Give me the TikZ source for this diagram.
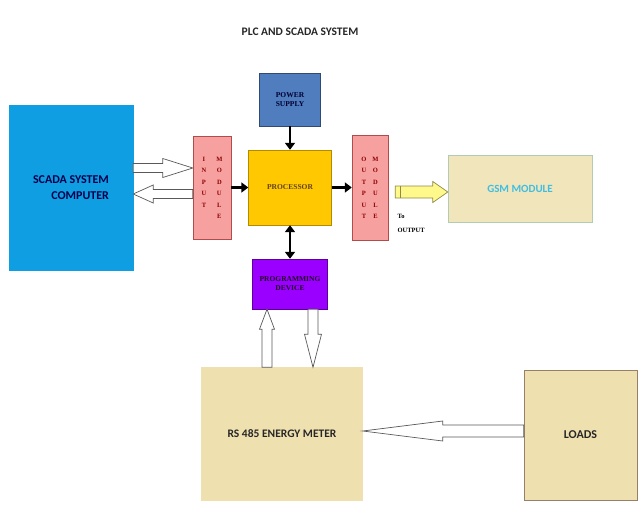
\documentclass[tikz,border=0pt]{standalone}
\usepackage{fontspec}
\setmainfont{Carlito}
\newfontfamily\smallserif{Liberation Serif}
\usetikzlibrary{calc,arrows.meta}

\definecolor{scadablue}{RGB}{16,158,226}
\definecolor{supplyblue}{RGB}{79,125,190}
\definecolor{modpink}{RGB}{247,160,160}
\definecolor{procgold}{RGB}{255,200,0}
\definecolor{progpurple}{RGB}{153,0,255}
\definecolor{meterbeige}{RGB}{239,224,176}
\definecolor{gsmcyan}{RGB}{64,190,225}

\begin{document}
\begin{tikzpicture}[
  x=1pt, y=-1pt,
  box/.style={draw, align=center, inner sep=2pt, font=\bfseries},
  tiny/.style={font=\smallserif\bfseries\fontsize{7.5}{9}\selectfont},
  letters/.style={font=\smallserif\bfseries\fontsize{6.5}{11.5}\selectfont, text=red!55!black},
  feed/.style={line width=2.6pt, -{Triangle[length=7pt,width=10pt]}},
  hollow/.style args={#1/#2/#3}{to path={let \p1=(\tikztostart), \p2=(\tikztotarget),
      \n1={atan2(\y2-\y1,\x2-\x1)}, \n2={veclen(\x2-\x1,\y2-\y1)} in
      (\p1) ++(\n1+90:#1) -- ++(\n1:\n2-#2) -- ++(\n1+90:#3-#1) -- (\p2)
      -- ($(\p1)+(\n1:\n2-#2)+(\n1-90:#3)$) -- ++(\n1+90:#3-#1)
      -- ($(\p1)+(\n1-90:#1)$) -- cycle}},
  link/.style={draw=gray!70!black, fill=white, line width=0.7pt}
]
\useasboundingbox (0,0) rectangle (638,514);

\node[font=\bfseries\fontsize{11.5}{13}\selectfont, text=black!85] (title) at (300,32) {PLC AND SCADA SYSTEM};

% PLC blocks
\node[box, draw=scadablue, fill=scadablue, minimum width=124pt, minimum height=165pt,
  text=blue!30!black, font=\bfseries\fontsize{12}{16}\selectfont, align=right] (scada) at (71,187.5) {SCADA SYSTEM\\COMPUTER};
\node[box, tiny, draw=supplyblue!60!black, fill=supplyblue, minimum width=61pt, minimum height=53pt,
  text=blue!20!black] (supply) at (290,99.5) {POWER\\SUPPLY};
\node[box, letters, draw=red!40!gray, fill=modpink, minimum width=38pt, minimum height=103pt] (input) at (212,187.5)
  {\begin{tabular}{@{}c@{\hspace{10pt}}c@{}}I&M\\N&O\\P&D\\U&U\\T&L\\&E\end{tabular}};
\node[box, tiny, draw=procgold!70!black, fill=procgold, minimum width=83pt, minimum height=75pt,
  text=brown!50!black] (proc) at (290,187.5) {PROCESSOR};
\node[box, letters, draw=red!40!gray, fill=modpink, minimum width=36pt, minimum height=105pt] (output) at (370,187.5)
  {\begin{tabular}{@{}c@{\hspace{6pt}}c@{}}O&M\\U&O\\T&D\\P&U\\U&L\\T&E\end{tabular}};
\node[box, draw=green!20!gray!50, fill=meterbeige!85!white, minimum width=144pt, minimum height=67pt,
  text=gsmcyan, font=\bfseries\fontsize{11}{13}\selectfont] (gsm) at (520,188.5) {GSM MODULE};
\node[tiny, anchor=north west, align=left, font=\smallserif\bfseries\fontsize{6.5}{14}\selectfont] (toout) at (394,211) {To\\OUTPUT};
\node[box, tiny, draw=progpurple!60!black, fill=progpurple, minimum width=75pt, minimum height=50pt,
  text=violet!30!black] (prog) at (290,284) {PROGRAMMING\\DEVICE};

% metering side
\node[box, draw=meterbeige, fill=meterbeige, minimum width=161pt, minimum height=133pt,
  text=black!85, font=\bfseries\fontsize{11.5}{13}\selectfont] (meter) at (282,434) {RS 485 ENERGY METER};
\node[box, draw=brown!35!gray, fill=meterbeige, minimum width=113pt, minimum height=130pt,
  text=black!85, font=\bfseries\fontsize{12}{14}\selectfont] (loads) at (580.5,435) {LOADS};

% connections
\draw[feed] (supply) -- (proc);
\draw[feed] (input) -- (proc);
\draw[feed] (proc) -- (output);
\draw[feed, {Triangle[length=7pt,width=10pt]}-{Triangle[length=7pt,width=10pt]}] (proc) -- (prog);

\draw[link, hollow=4.5pt/30pt/9.5pt] ([yshift=19.5pt]scada.east) to ([yshift=19.5pt]input.west);
\draw[link, hollow=4.5pt/20pt/9pt] ([yshift=-6.5pt]input.west) to ([yshift=-6.5pt]scada.east);

\draw[link, draw=olive!50!gray, fill=yellow!45, hollow=6pt/15pt/10.5pt] ([xshift=7pt,yshift=-4.5pt]output.east) to ([yshift=-4.5pt]output.east -| gsm.west);
\draw[olive!50!gray, line width=0.7pt] ([xshift=12pt,yshift=1.5pt]output.east) -- ++(0,12);

\draw[link, hollow=5pt/20pt/7.5pt] ([xshift=-23pt]prog.south |- meter.north) to ([xshift=-23pt]prog.south);
\draw[link, hollow=5pt/33pt/8.5pt] ([xshift=23pt]prog.south) to ([xshift=23pt]prog.south |- meter.north);

\draw[link, hollow=6pt/80pt/10pt] ([yshift=4pt]loads.west) to ([yshift=4pt]loads.west -| meter.east);
\end{tikzpicture}
\end{document}
